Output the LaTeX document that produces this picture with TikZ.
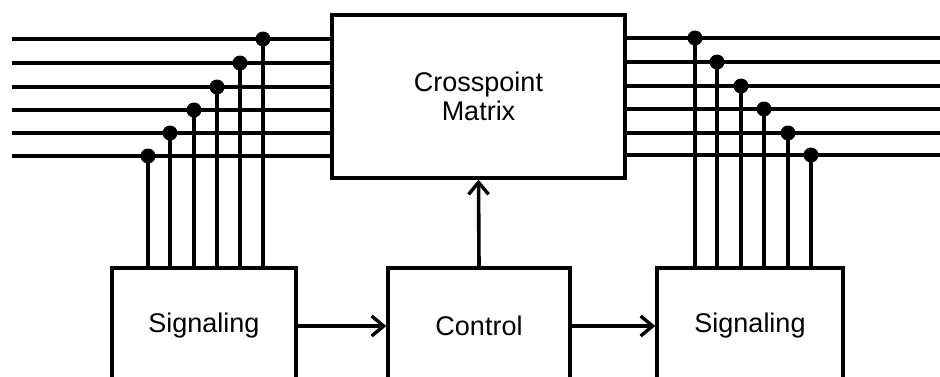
\documentclass[tikz,border=0pt]{standalone}
\usepackage{fontspec}
\setmainfont{Liberation Sans}
\usetikzlibrary{arrows.meta}
\begin{document}
\begin{tikzpicture}[x=1pt,y=-1pt,
  blk/.style={draw, line width=3.4pt, inner sep=0pt, font=\fontsize{27}{32}\selectfont, align=center},
  wire/.style={line width=3.6pt},
  arr/.style={line width=3.6pt, -{Straight Barb[length=12pt,width=20pt,line width=3.4pt]}},
  dotc/.style={fill=black}]
\useasboundingbox (0,0) rectangle (940,376);
\clip (0,0) rectangle (940,376);
% blocks
\node[blk, minimum width=293pt, minimum height=163pt] (xp) at (478.5,96.5) {Crosspoint\\[-3pt]Matrix};
\node[blk, minimum width=184pt, minimum height=116pt] (sigL) at (204,326) {Signaling};
\node[blk, minimum width=182pt, minimum height=116pt] (ctrl) at (479,326) {Control};
\node[blk, minimum width=186pt, minimum height=116pt] (sigR) at (750,326) {Signaling};
% left lines
\foreach \i/\y/\dx in {1/39/263,2/63/240,3/87/217,4/110/194,5/133/170,6/156/148}{
  \coordinate (L\i) at (12,\y);
  \coordinate (dL\i) at (\dx,\y);
  \draw[wire] (L\i) -- (L\i -| xp.west);
  \draw[wire] (dL\i) -- (dL\i |- sigL.north);
  \fill[dotc] (dL\i) circle (7.5pt);
}
% right lines
\foreach \i/\y/\dx in {1/38/695,2/62/717,3/86/741,4/109/764,5/133/788,6/155/811}{
  \coordinate (R\i) at (940,\y);
  \coordinate (dR\i) at (\dx,\y);
  \draw[wire] (R\i) -- (R\i -| xp.east);
  \draw[wire] (dR\i) -- (dR\i |- sigR.north);
  \fill[dotc] (dR\i) circle (7.5pt);
}
% arrows
\draw[arr] (sigL.east) -- (ctrl.west);
\draw[arr] (ctrl.east) -- (sigR.west);
\draw[arr] (ctrl.north) -- (xp.south);
\end{tikzpicture}
\end{document}
